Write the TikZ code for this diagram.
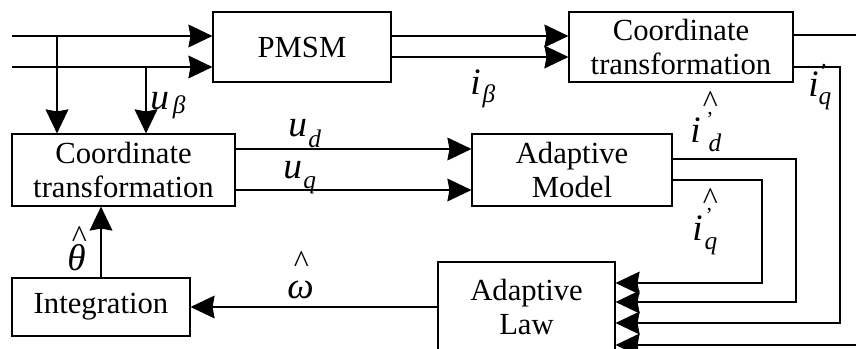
\documentclass[tikz,border=0pt]{standalone}
\usepackage{fontspec}
\setmainfont{Liberation Serif}
\usetikzlibrary{arrows.meta,calc}
\newcommand\subsz{\fontsize{19pt}{19pt}\selectfont}
\newcommand\lsub[3]{\kern#1\raisebox{-#2}{\subsz\itshape #3}}
\newcommand\lmark[3]{\makebox[0pt][l]{\kern#1\raisebox{#2}{#3}}}
\newcommand\hatg{{\fontsize{24pt}{24pt}\selectfont\upshape\symbol{"005E}}}
\newcommand\primeg{{\fontsize{16pt}{16pt}\selectfont\upshape\symbol{"0027}}}
\tikzset{
  box/.style={draw, line width=0.8pt, inner sep=0pt, align=center, font=\fontsize{23pt}{26pt}\selectfont},
  ln/.style={line width=1.6pt},
  arr/.style={-{Stealth[length=18pt,width=17pt,inset=1.5pt]}},
  mlab/.style={anchor=base west, inner sep=0pt, font=\fontsize{28pt}{28pt}\selectfont\itshape}
}
\begin{document}
\begin{tikzpicture}[x=0.75pt,y=-0.75pt]
\clip (0,0) rectangle (856,349);
% blocks
\node[box, minimum width=133.5pt, minimum height=52.5pt] (pmsm) at (302,47) {PMSM};
\node[box, minimum width=168pt, minimum height=52.5pt] (ct2) at (681,47) {Coordinate\\transformation};
\node[box, minimum width=167.25pt, minimum height=54pt] (ct1) at (123.5,170) {Coordinate\\transformation};
\node[box, minimum width=150pt, minimum height=54pt] (am) at (572,170) {Adaptive\\Model};
\node[box, minimum width=133.5pt, minimum height=43.5pt] (int) at (101,307) {Integration};
\node[box, minimum width=132.75pt, minimum height=67.5pt] (law) at (526.5,307) {Adaptive\\Law};
% helper coordinates
\coordinate (in1) at (12,36);
\coordinate (in2) at (12,67);
\coordinate (j1) at (57,36);
\coordinate (j2) at (146,67);
\coordinate (p1) at ($(pmsm.east)+(0,-11)$);
\coordinate (p2) at ($(pmsm.east)+(0,10)$);
\coordinate (c1) at ($(ct2.east)+(0,-12)$);
\coordinate (c2) at ($(ct2.east)+(0,20)$);
\coordinate (re1) at (860,35);
\coordinate (re4) at (860,345);
\coordinate (xr) at (840,0);
\coordinate (xd) at (796,0);
\coordinate (xq) at (762,0);
\coordinate (m1) at ($(am.east)+(0,-11)$);
\coordinate (m2) at ($(am.east)+(0,10)$);
\coordinate (d1) at ($(ct1.east)+(0,-21)$);
\coordinate (d2) at ($(ct1.east)+(0,20)$);
\coordinate (a1) at ($(law.east)+(0,-24)$);
\coordinate (a2) at ($(law.east)+(0,-5)$);
\coordinate (a3) at ($(law.east)+(0,16)$);
\coordinate (a4) at ($(law.east)+(0,38)$);
% connectors
\draw[ln,arr] (in1) -- (in1 -| pmsm.west);
\draw[ln,arr] (in2) -- (in2 -| pmsm.west);
\draw[ln,arr] (j1) -- (j1 |- ct1.north);
\draw[ln,arr] (j2) -- (j2 |- ct1.north);
\draw[ln,arr] (p1) -- (p1 -| ct2.west);
\draw[ln,arr] (p2) -- (p2 -| ct2.west);
\draw[ln] (c1) -- (re1);
\draw[ln,arr] (c2) -- (c2 -| xr) |- (a3);
\draw[ln,arr] (re4) -- (a4);
\draw[ln,arr] (d1) -- (d1 -| am.west);
\draw[ln,arr] (d2) -- (d2 -| am.west);
\draw[ln,arr] (m1) -- (m1 -| xd) |- (a2);
\draw[ln,arr] (m2) -- (m2 -| xq) |- (a1);
\draw[ln,arr] (law.west) -- (int.east);
\draw[ln,arr] (int.north) -- (int.north |- ct1.south);
% labels
\node[mlab] (lub) at (150,110) {u\lsub{3pt}{3pt}{β}};
\node[mlab] (lib) at (470,95) {i\lsub{1.5pt}{6pt}{β}};
\node[mlab] (lud) at (288,137) {u\lsub{1pt}{8pt}{d}};
\node[mlab] (luq) at (283,178) {u\lsub{1pt}{8pt}{q}};
\node[mlab] (lth) at (67,270) {\lmark{3.5pt}{17.25pt}{\hatg}θ};
\node[mlab] (lom) at (287,298) {\lmark{5pt}{19.5pt}{\hatg}ω};
\node[mlab] (lid) at (690,143) {\lmark{9.5pt}{23.25pt}{\hatg}\lmark{12pt}{12.75pt}{\primeg}i\lsub{6pt}{6pt}{d}};
\node[mlab] (liq) at (692,240) {\lmark{8pt}{23.25pt}{\hatg}\lmark{10pt}{13.5pt}{\primeg}i\lsub{1.5pt}{7pt}{q}};
\node[mlab] (liq2) at (808,97) {\lmark{9pt}{14pt}{\primeg}i\lsub{0pt}{6pt}{q}};
\end{tikzpicture}
\end{document}
